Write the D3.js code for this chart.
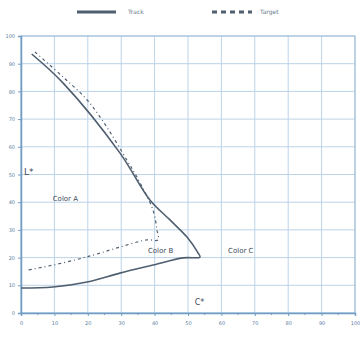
<!DOCTYPE html>
<html>
<head>
<meta charset="utf-8">
<script src="https://cdn.jsdelivr.net/npm/d3@7"></script>
<style>
  body { margin: 0; background: #fff; }
  svg { display: block; }
</style>
</head>
<body>
<div id="chart"></div>
<script>
// Chart data (C*, L*)
const seriesNames = ['Track', 'Target'];
const solidC = [3.2, 12.7, 29.6, 38.6, 44.6, 49.7, 53.0, 53.6, 48.5, 39.5, 29.6, 19.8, 9.6, 0];
const solidL = [93.5, 82.9, 57.8, 40.8, 33.6, 27.4, 21.7, 20.2, 19.9, 17.3, 14.4, 11.2, 9.4, 9.0];
const dashC = [4.2, 12.6, 19.8, 25.7, 31.7, 34.7, 39.5, 40.7, 41.0, 37.7, 29.6, 21.6, 12.6, 2.1];
const dashL = [94.2, 85.2, 76.9, 67.1, 55.2, 49.1, 37.2, 30.0, 26.4, 26.4, 23.8, 20.9, 18.1, 15.5];
const tickValues = [0, 10, 20, 30, 40, 50, 60, 70, 80, 90, 100];
const labelNames = ['Color A', 'Color B', 'Color C'];
const labelC = [9.5, 38, 62];
const labelL = [40.5, 21.5, 21.5];

const width = 360, height = 358;
const margin = { top: 36, right: 5, bottom: 45, left: 21 };

const svg = d3.select('#chart')
  .append('svg')
  .attr('width', width)
  .attr('height', height);

const x = d3.scaleLinear().domain([0, 100]).range([margin.left, width - margin.right]);
const y = d3.scaleLinear().domain([0, 100]).range([height - margin.bottom, margin.top]);

const gridColor = '#bcd3e8';
const axisColor = '#6f9cc4';
const lineColor = '#4f5f70';

// Gridlines
svg.append('g')
  .selectAll('line.v')
  .data(tickValues)
  .enter()
  .append('line')
  .attr('x1', d => x(d)).attr('x2', d => x(d))
  .attr('y1', y(0)).attr('y2', y(100))
  .attr('stroke', gridColor)
  .attr('stroke-width', 1);

svg.append('g')
  .selectAll('line.h')
  .data(tickValues)
  .enter()
  .append('line')
  .attr('x1', x(0)).attr('x2', x(100))
  .attr('y1', d => y(d)).attr('y2', d => y(d))
  .attr('stroke', gridColor)
  .attr('stroke-width', 1);

// Plot border
svg.append('rect')
  .attr('x', x(0)).attr('y', y(100))
  .attr('width', x(100) - x(0)).attr('height', y(0) - y(100))
  .attr('fill', 'none')
  .attr('stroke', '#9dbbd8')
  .attr('stroke-width', 1);

// Axes
const xAxis = svg.append('g')
  .attr('transform', 'translate(0,' + y(0) + ')')
  .call(d3.axisBottom(x).tickValues(tickValues).tickSize(3).tickFormat(d3.format('d')));
const yAxis = svg.append('g')
  .attr('transform', 'translate(' + x(0) + ',0)')
  .call(d3.axisLeft(y).tickValues(tickValues).tickSize(3).tickFormat(d3.format('d')));

[xAxis, yAxis].forEach(a => {
  a.select('.domain').attr('stroke', axisColor).attr('stroke-width', 1.5);
  a.selectAll('.tick line').attr('stroke', axisColor);
  a.selectAll('.tick text')
    .attr('fill', '#5b7ea0')
    .style('font', '5px "DejaVu Sans", sans-serif');
});
xAxis.selectAll('.tick text').attr('dy', '1.2em');

// Minor ticks on x axis
svg.append('g')
  .selectAll('line')
  .data(d3.range(5, 100, 10))
  .enter()
  .append('line')
  .attr('x1', d => x(d)).attr('x2', d => x(d))
  .attr('y1', y(0)).attr('y2', y(0) + 2)
  .attr('stroke', axisColor);

// Curves
const line = d3.line()
  .x(d => x(d[0]))
  .y(d => y(d[1]))
  .curve(d3.curveCatmullRom.alpha(0.5));

svg.append('path')
  .datum(d3.zip(solidC, solidL))
  .attr('d', line)
  .attr('fill', 'none')
  .attr('stroke', lineColor)
  .attr('stroke-width', 1.6);

svg.append('path')
  .datum(d3.zip(dashC, dashL))
  .attr('d', line)
  .attr('fill', 'none')
  .attr('stroke', lineColor)
  .attr('stroke-width', 1.2)
  .attr('stroke-dasharray', '3,3,1,3');

// Labels
svg.append('g')
  .selectAll('text')
  .data(labelNames)
  .enter()
  .append('text')
  .attr('x', (d, i) => x(labelC[i]))
  .attr('y', (d, i) => y(labelL[i]))
  .attr('fill', '#3d4a58')
  .style('font', '7px "DejaVu Sans", sans-serif')
  .text(d => d);

svg.append('text')
  .attr('x', 24).attr('y', y(50))
  .attr('fill', '#3d4a58')
  .style('font', '9px "DejaVu Sans", sans-serif')
  .text('L*');

svg.append('text')
  .attr('x', x(52)).attr('y', y(3))
  .attr('fill', '#3d4a58')
  .style('font', '8px "DejaVu Sans", sans-serif')
  .text('C*');

// Legend
const legend = svg.append('g');
legend.append('line')
  .attr('x1', 77).attr('x2', 116).attr('y1', 12).attr('y2', 12)
  .attr('stroke', lineColor).attr('stroke-width', 3);
legend.append('text')
  .attr('x', 128).attr('y', 14)
  .attr('fill', '#6a7c8e')
  .style('font', '6px "DejaVu Sans", sans-serif')
  .text(seriesNames[0]);
legend.append('line')
  .attr('x1', 212).attr('x2', 252).attr('y1', 12).attr('y2', 12)
  .attr('stroke', lineColor).attr('stroke-width', 3)
  .attr('stroke-dasharray', '5,4');
legend.append('text')
  .attr('x', 260).attr('y', 14)
  .attr('fill', '#6a7c8e')
  .style('font', '6px "DejaVu Sans", sans-serif')
  .text(seriesNames[1]);
</script>
</body>
</html>
